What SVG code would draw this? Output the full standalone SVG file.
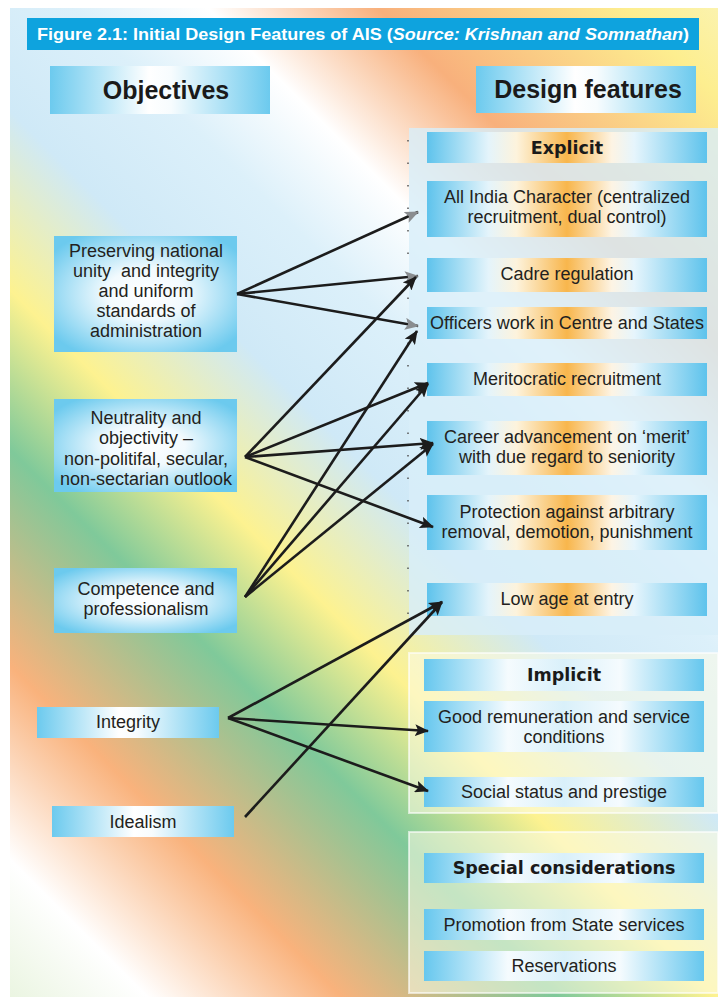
<svg xmlns="http://www.w3.org/2000/svg" width="718" height="997" viewBox="0 0 718 997">
<defs>
<linearGradient id="bg" gradientUnits="userSpaceOnUse" x1="0" y1="997" x2="857.5" y2="139.5">
<stop offset="0" stop-color="#e9f4df"/>
<stop offset="0.086" stop-color="#ffffff"/>
<stop offset="0.199" stop-color="#f9b27c"/>
<stop offset="0.325" stop-color="#7fc99a"/>
<stop offset="0.418" stop-color="#fdf290"/>
<stop offset="0.523" stop-color="#cfe9f7"/>
<stop offset="0.62" stop-color="#dcf0fa"/>
<stop offset="0.698" stop-color="#ffffff"/>
<stop offset="0.797" stop-color="#f8b07c"/>
<stop offset="0.943" stop-color="#fdee8f"/>
<stop offset="1" stop-color="#fbf3b0"/>
</linearGradient>
<linearGradient id="gOr" x1="0" y1="0" x2="1" y2="0">
<stop offset="0" stop-color="#5ec3ec"/>
<stop offset="0.22" stop-color="#e4f4fb"/>
<stop offset="0.32" stop-color="#fdf3dc"/>
<stop offset="0.5" stop-color="#f8b64c"/>
<stop offset="0.66" stop-color="#fdf4e4"/>
<stop offset="0.74" stop-color="#e6f5fc"/>
<stop offset="1" stop-color="#5ec3ec"/>
</linearGradient>
<linearGradient id="gBl" x1="0" y1="0" x2="1" y2="0">
<stop offset="0" stop-color="#66c7ee"/>
<stop offset="0.3" stop-color="#f5fbfe"/>
<stop offset="0.5" stop-color="#d9f0fa"/>
<stop offset="0.7" stop-color="#f5fbfe"/>
<stop offset="1" stop-color="#66c7ee"/>
</linearGradient>
<linearGradient id="gLeft" x1="0" y1="0" x2="1" y2="0">
<stop offset="0" stop-color="#6ccaee"/>
<stop offset="0.45" stop-color="#ffffff"/>
<stop offset="0.55" stop-color="#f7fcfe"/>
<stop offset="1" stop-color="#6ccaee"/>
</linearGradient>
<radialGradient id="gRad" cx="0.5" cy="0.5" r="0.62">
<stop offset="0" stop-color="#ffffff"/>
<stop offset="0.35" stop-color="#f2fafe"/>
<stop offset="1" stop-color="#6ccaee"/>
</radialGradient>
<marker id="ah" viewBox="0 0 14 12" markerWidth="14" markerHeight="12" refX="13" refY="6" orient="auto" markerUnits="userSpaceOnUse">
<path d="M0,0 L14,6 L0,12 L3,6 Z" fill="#1c1c1c"/>
</marker>
<marker id="ahg" viewBox="0 0 14 12" markerWidth="14" markerHeight="12" refX="13" refY="6" orient="auto" markerUnits="userSpaceOnUse">
<path d="M0,0 L14,6 L0,12 L3,6 Z" fill="#8a8d90"/>
</marker>
<style>
.t{font-family:"Liberation Sans",Arial,sans-serif;font-size:18px;fill:#231f20;text-anchor:middle}
.h{font-family:"Liberation Sans",Arial,sans-serif;font-size:25px;font-weight:bold;fill:#1a1a1a;text-anchor:middle}
.k{font-family:"DejaVu Sans",sans-serif;font-size:17.5px;font-weight:bold;fill:#1a1a1a;text-anchor:middle}
.ln{stroke:#1c1c1c;stroke-width:2.6;fill:none;marker-end:url(#ah)}
.lg{stroke:#1c1c1c;stroke-width:2.6;fill:none;marker-end:url(#ahg)}
.or{fill:url(#gOr)}
.bl{fill:url(#gBl)}
</style>
</defs>
<rect x="0" y="0" width="718" height="997" fill="#ffffff"/>
<rect x="10" y="8" width="708" height="989" fill="url(#bg)"/>

<g id="title">
<rect x="27" y="18" width="672" height="32" fill="#0ea3de"/>
<text x="37" y="40" font-family="'Liberation Sans',Arial,sans-serif" font-size="17" font-weight="bold" fill="#ffffff" textLength="652" lengthAdjust="spacingAndGlyphs">Figure 2.1: Initial Design Features of AIS (<tspan font-style="italic">Source: Krishnan and Somnathan</tspan>)</text>
</g>

<g id="hdr-objectives">
<rect x="50" y="66" width="220" height="48" fill="url(#gLeft)"/>
<text class="h" x="166" y="99">Objectives</text>
</g>
<g id="hdr-design">
<rect x="476" y="66" width="220" height="47" fill="url(#gLeft)"/>
<text class="h" x="588" y="98">Design features</text>
</g>

<g id="panels">
<rect x="409" y="128" width="309" height="507" fill="#d8eef9" fill-opacity="0.82"/>
<line x1="408" y1="140" x2="408" y2="630" stroke="#555" stroke-width="1.5" stroke-dasharray="1.5 21"/>
<rect x="409" y="653" width="309" height="160" fill="#fdfbe6" fill-opacity="0.55" stroke="#ffffff" stroke-opacity="0.6" stroke-width="2"/>
<rect x="409" y="832" width="309" height="161" fill="#fdfbe6" fill-opacity="0.55" stroke="#ffffff" stroke-opacity="0.6" stroke-width="2"/>
</g>

<g id="obj-preserving">
<rect x="54" y="236" width="183" height="116" fill="url(#gRad)"/>
<text class="t" x="146" y="257">Preserving national</text>
<text class="t" x="146" y="277" xml:space="preserve">unity  and integrity</text>
<text class="t" x="146" y="297">and uniform</text>
<text class="t" x="146" y="317">standards of</text>
<text class="t" x="146" y="337">administration</text>
</g>
<g id="obj-neutrality">
<rect x="54" y="399" width="183" height="93" fill="url(#gRad)"/>
<text class="t" x="146" y="424">Neutrality and</text>
<text class="t" x="146" y="444">objectivity –</text>
<text class="t" x="146" y="465">non-politifal, secular,</text>
<text class="t" x="146" y="485">non-sectarian outlook</text>
</g>
<g id="obj-competence">
<rect x="54" y="568" width="183" height="65" fill="url(#gRad)"/>
<text class="t" x="146" y="595">Competence and</text>
<text class="t" x="146" y="615">professionalism</text>
</g>
<g id="obj-integrity">
<rect x="37" y="707" width="182" height="31" fill="url(#gLeft)"/>
<text class="t" x="128" y="728">Integrity</text>
</g>
<g id="obj-idealism">
<rect x="52" y="806" width="182" height="31" fill="url(#gLeft)"/>
<text class="t" x="143" y="828">Idealism</text>
</g>

<g id="explicit">
<rect class="or" x="427" y="132" width="280" height="31"/>
<text class="k" x="567" y="154">Explicit</text>
</g>
<g id="df-allindia">
<rect class="or" x="427" y="181" width="280" height="56"/>
<text class="t" x="567" y="203">All India Character (centralized</text>
<text class="t" x="567" y="223">recruitment, dual control)</text>
</g>
<g id="df-cadre">
<rect class="or" x="427" y="258" width="280" height="34"/>
<text class="t" x="567" y="280">Cadre regulation</text>
</g>
<g id="df-officers">
<rect class="or" x="427" y="307" width="280" height="32"/>
<text class="t" x="567" y="329">Officers work in Centre and States</text>
</g>
<g id="df-meritocratic">
<rect class="or" x="427" y="363" width="280" height="33"/>
<text class="t" x="567" y="385">Meritocratic recruitment</text>
</g>
<g id="df-career">
<rect class="or" x="427" y="421" width="280" height="54"/>
<text class="t" x="567" y="443">Career advancement on ‘merit’</text>
<text class="t" x="567" y="463">with due regard to seniority</text>
</g>
<g id="df-protection">
<rect class="or" x="427" y="495" width="280" height="55"/>
<text class="t" x="567" y="518">Protection against arbitrary</text>
<text class="t" x="567" y="538">removal, demotion, punishment</text>
</g>
<g id="df-lowage">
<rect class="or" x="427" y="583" width="280" height="33"/>
<text class="t" x="567" y="605">Low age at entry</text>
</g>

<g id="implicit">
<rect class="bl" x="424" y="659" width="280" height="32"/>
<text class="k" x="564" y="681">Implicit</text>
</g>
<g id="df-remuneration">
<rect class="bl" x="424" y="701" width="280" height="51"/>
<text class="t" x="564" y="723">Good remuneration and service</text>
<text class="t" x="564" y="743">conditions</text>
</g>
<g id="df-social">
<rect class="bl" x="424" y="777" width="280" height="30"/>
<text class="t" x="564" y="798">Social status and prestige</text>
</g>

<g id="special">
<rect class="bl" x="424" y="853" width="280" height="30"/>
<text class="k" x="564" y="874">Special considerations</text>
</g>
<g id="df-promotion">
<rect class="bl" x="424" y="909" width="280" height="31"/>
<text class="t" x="564" y="931">Promotion from State services</text>
</g>
<g id="df-reservations">
<rect class="bl" x="424" y="951" width="280" height="30"/>
<text class="t" x="564" y="972">Reservations</text>
</g>

<g id="connectors">
<line class="lg" x1="237" y1="294" x2="418" y2="212"/>
<line class="lg" x1="237" y1="294" x2="418" y2="276"/>
<line class="lg" x1="237" y1="294" x2="418" y2="326"/>
<line class="ln" x1="245" y1="457" x2="416" y2="277"/>
<line class="ln" x1="245" y1="457" x2="428" y2="383"/>
<line class="ln" x1="245" y1="457" x2="433" y2="443"/>
<line class="ln" x1="245" y1="457" x2="433" y2="527"/>
<line class="ln" x1="245" y1="597" x2="417" y2="331"/>
<line class="ln" x1="245" y1="597" x2="428" y2="384"/>
<line class="ln" x1="245" y1="597" x2="433" y2="444"/>
<line class="ln" x1="228" y1="718" x2="442" y2="602"/>
<line class="ln" x1="228" y1="718" x2="428" y2="731"/>
<line class="ln" x1="228" y1="718" x2="428" y2="791"/>
<line class="ln" x1="245" y1="817" x2="442" y2="602"/>
</g>
</svg>
